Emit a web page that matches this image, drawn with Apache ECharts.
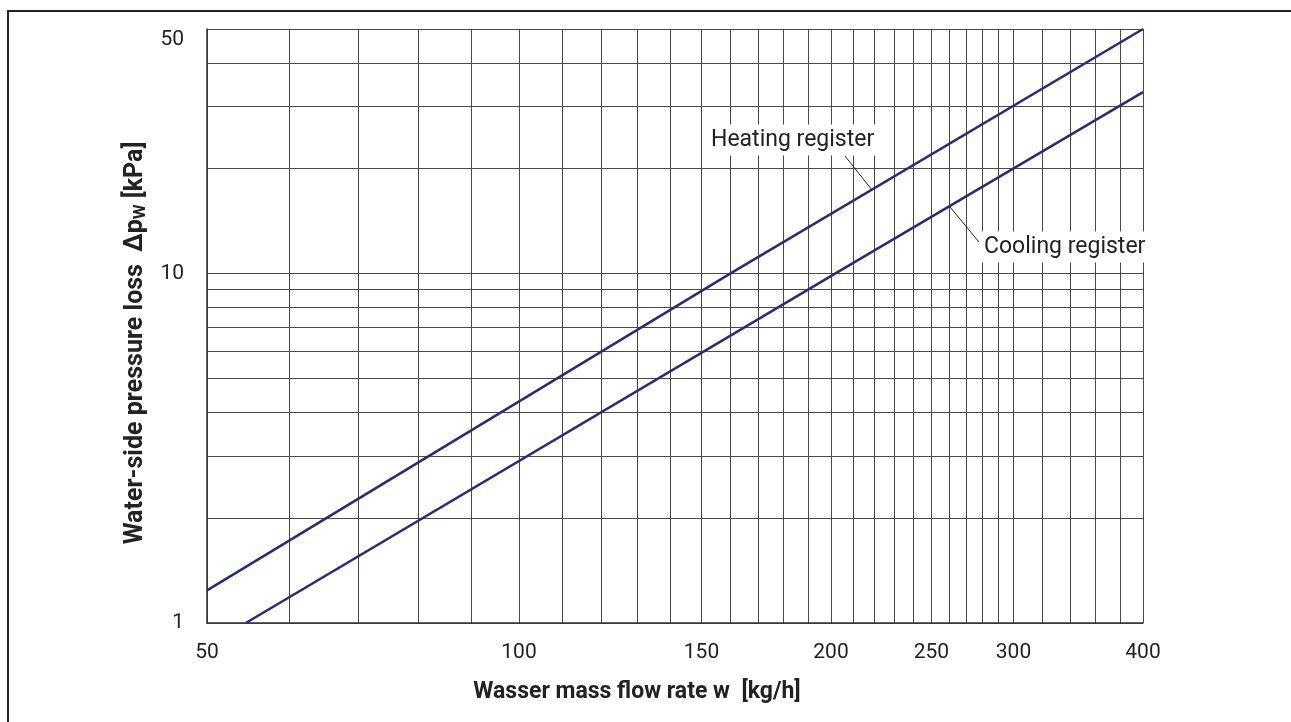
<!DOCTYPE html>
<html><head><meta charset="utf-8">
<script src="https://cdn.jsdelivr.net/npm/echarts@6/dist/echarts.min.js"></script>
<style>
html,body{margin:0;padding:0;background:#fff;overflow:hidden}
#frame{position:absolute;left:7px;top:10px;width:1400px;height:800px;border:2px solid #222;box-sizing:border-box}
#chart{position:absolute;left:0;top:0;width:1291px;height:722px}
</style></head><body>
<div id="frame"></div><div id="chart"></div>
<script>
// Axis tick labels and grid values
const xTickLabels = [50, 100, 150, 200, 250, 300, 400];
const xGridValues = [50, 60, 70, 80, 90, 100, 110, 120, 130, 140, 150, 160, 170, 180, 190, 200,
  210, 220, 230, 240, 250, 260, 270, 280, 290, 300, 320, 340, 360, 380, 400];
const yTickLabels = [1, 10, 50];
const yGridValues = [1, 2, 3, 4, 5, 6, 7, 8, 9, 10, 20, 30, 40, 50];

// Series values
const heatingFlow = [50, 160, 400];
const heatingLoss = [1.24, 10, 50];
const coolingFlow = [54.5, 202, 400];
const coolingLoss = [1, 10, 33];

const seriesNames = ['Heating register', 'Cooling register'];

const FONT = 'Roboto';
const chart = echarts.init(document.getElementById('chart'));
const gridColor = '#4a4a4a';
const lineColor = '#2c2a78';

function zip(a, b) { return a.map((v, i) => [v, b[i]]); }

chart.setOption({
  animation: false,
  grid: { left: 207, right: 148, top: 29, bottom: 99, containLabel: false },
  xAxis: {
    type: 'log', logBase: 10, min: 50, max: 400,
    name: 'Wasser mass flow rate w  [kg/h]',
    nameLocation: 'middle', nameGap: 58,
    nameTextStyle: { fontFamily: FONT, fontSize: 23, fontWeight: 'bold', color: '#222', padding: [0, 76, 0, 0] },
    axisLine: { show: true, lineStyle: { color: '#333', width: 1.5 } },
    axisTick: { show: false, customValues: xGridValues },
    axisLabel: { customValues: xTickLabels, margin: 19, fontFamily: FONT, fontSize: 21, color: '#222' },
    splitLine: { show: true, lineStyle: { color: gridColor, width: 1 } }
  },
  yAxis: {
    type: 'log', logBase: 10, min: 1, max: 50,
    name: 'Water-side pressure loss  Δp{s|W} [kPa]',
    nameLocation: 'middle', nameGap: 50, nameRotate: 90,
    nameTextStyle: { fontFamily: FONT, fontSize: 25, fontWeight: 'bold', color: '#222', padding: [0, 34, 0, 0],
      rich: { s: { fontFamily: FONT, fontSize: 17, fontWeight: 'bold', color: '#222', verticalAlign: 'bottom', padding: [10, 0, 0, 0] } } },
    axisLine: { show: true, lineStyle: { color: '#333', width: 1.5 } },
    axisTick: { show: false, customValues: yGridValues },
    axisLabel: { customValues: yTickLabels, margin: 23, fontFamily: FONT, fontSize: 21, color: '#222',
      verticalAlignMaxLabel: 'top' },
    splitLine: { show: true, lineStyle: { color: gridColor, width: 1 } }
  },
  series: [
    { name: seriesNames[0], type: 'line', showSymbol: false, data: zip(heatingFlow, heatingLoss),
      lineStyle: { color: lineColor, width: 2.5 }, z: 5 },
    { name: seriesNames[1], type: 'line', showSymbol: false, data: zip(coolingFlow, coolingLoss),
      lineStyle: { color: lineColor, width: 2.5 }, z: 5 }
  ],
  graphic: [
    { type: 'line', shape: { x1: 845, y1: 156, x2: 872, y2: 190 }, style: { stroke: '#222', lineWidth: 1 }, z: 10 },
    { type: 'line', shape: { x1: 950, y1: 207, x2: 979, y2: 242 }, style: { stroke: '#222', lineWidth: 1 }, z: 10 },
    { type: 'text', x: 707, y: 140, z: 11,
      style: { text: seriesNames[0], fontFamily: FONT, fontSize: 23, fill: '#222', backgroundColor: '#fff',
        padding: [4, 4], align: 'left', verticalAlign: 'middle' } },
    { type: 'text', x: 980, y: 247, z: 11,
      style: { text: seriesNames[1], fontFamily: FONT, fontSize: 23, fill: '#222', backgroundColor: '#fff',
        padding: [4, 4], align: 'left', verticalAlign: 'middle' } }
  ]
});
</script>
</body></html>
